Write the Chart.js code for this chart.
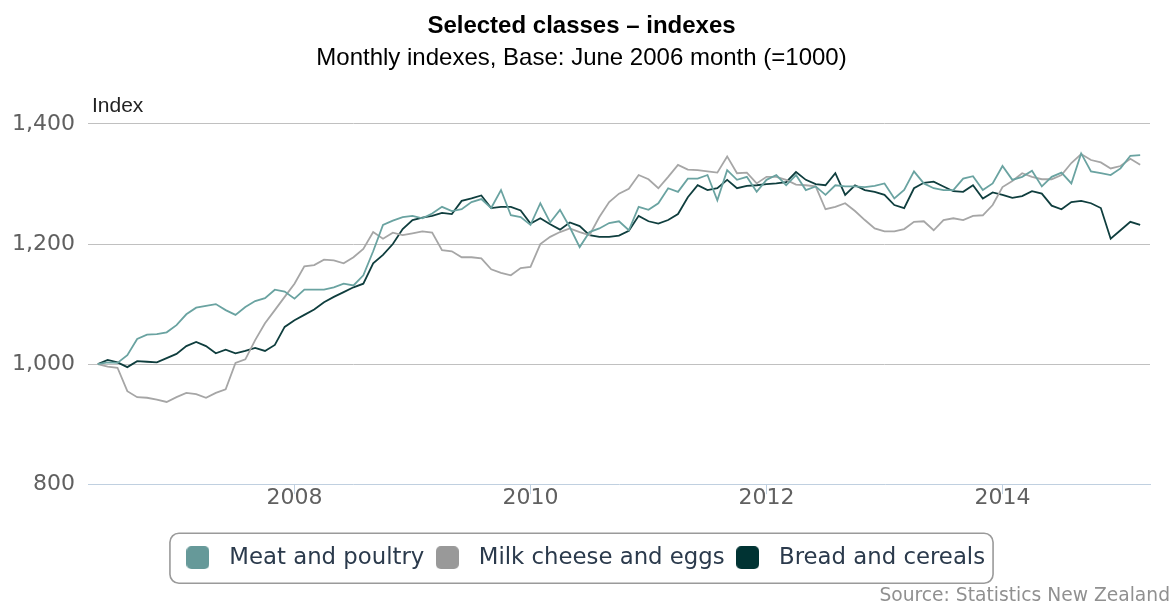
<!DOCTYPE html>
<html>
<head>
<meta charset="utf-8">
<title>Selected classes – indexes</title>
<script src="https://cdn.jsdelivr.net/npm/chart.js@4.4.1/dist/chart.umd.min.js"></script>
<style>
  html, body { margin: 0; padding: 0; background: #fff; }
  #wrap { width: 1173px; height: 603px; }
</style>
</head>
<body>
<div id="wrap"><canvas id="chart" width="1173" height="603"></canvas></div>
<script>
// monthly series, first month May 2006
const startYear = 2006;
const startMonth = 4; // 0-based, May

const seriesNames = ["Meat and poultry", "Milk cheese and eggs", "Bread and cereals"];

const meat = [
  1000, 1003, 1002, 1015, 1042, 1049, 1050, 1053, 1065, 1083,
  1094, 1097, 1100, 1090, 1082, 1095, 1105, 1110, 1124, 1121,
  1109, 1124, 1124, 1124, 1128, 1134, 1131, 1148, 1188, 1232,
  1239, 1245, 1247, 1243, 1251, 1262, 1255, 1258, 1270, 1275,
  1260, 1290, 1248, 1245, 1232, 1268, 1236, 1257, 1228, 1195,
  1220, 1226, 1235, 1238, 1223, 1262, 1257, 1268, 1293, 1287,
  1309, 1309, 1315, 1273, 1323, 1307, 1312, 1287, 1307, 1315,
  1298, 1315, 1290, 1296, 1282, 1298, 1296, 1296, 1295, 1297,
  1301, 1276, 1290, 1321, 1301, 1293, 1290, 1290, 1309, 1313,
  1290, 1301, 1330, 1307, 1312, 1322, 1296, 1312, 1319, 1301,
  1351, 1321, 1318, 1315, 1326, 1347, 1348
];

const milk = [
  1000, 996, 994, 955, 945, 944, 941, 937, 945, 952,
  950, 944, 952, 958, 1002, 1008, 1040, 1068, 1090, 1112,
  1134, 1163, 1165, 1174, 1173, 1168, 1178, 1192, 1220, 1209,
  1219, 1215, 1218, 1221, 1219, 1190, 1188, 1178, 1178, 1176,
  1158, 1152, 1148, 1160, 1162, 1200, 1212, 1220, 1226, 1220,
  1215, 1245, 1270, 1284, 1292, 1315, 1308, 1293, 1312, 1332,
  1324, 1323, 1321, 1319, 1346, 1318, 1319, 1301, 1312, 1312,
  1307, 1299, 1298, 1296, 1258, 1262, 1268, 1255, 1240, 1226,
  1221, 1221, 1225, 1237, 1238, 1223, 1240, 1243, 1240, 1247,
  1248, 1265, 1295, 1305, 1318, 1312, 1308, 1308, 1315, 1335,
  1350, 1340, 1336, 1326, 1330, 1342, 1332
];

const bread = [
  1000, 1007, 1003, 995, 1005, 1004, 1003, 1010, 1017, 1030,
  1037, 1030, 1018, 1024, 1018, 1022, 1027, 1022, 1032, 1062,
  1073, 1082, 1091, 1103, 1112, 1120, 1128, 1134, 1168, 1182,
  1200, 1225, 1240, 1244, 1247, 1252, 1250, 1272, 1276, 1281,
  1260, 1262, 1262, 1256, 1234, 1243, 1233, 1224, 1236, 1230,
  1215, 1212, 1212, 1214, 1222, 1247, 1238, 1234, 1240, 1250,
  1278, 1298, 1290, 1293, 1307, 1293, 1297, 1298, 1300, 1301,
  1303, 1320, 1307, 1300, 1298, 1318, 1282, 1298, 1290, 1287,
  1282, 1265, 1260, 1293, 1302, 1304, 1296, 1288, 1287, 1298,
  1276, 1286, 1282, 1277, 1280, 1288, 1284, 1264, 1258, 1270,
  1272, 1268, 1260, 1209, 1223, 1237, 1232
];

const xTicks = [2008, 2010, 2012, 2014];
const yTicks = [800, 1000, 1200, 1400];

const swatchColors = ["#669999", "#999999", "#003333"];
const lineColors = ["#6aa3a1", "#a6a6a6", "#0f3e3e"];

// month index -> decimal year
function toPoints(values) {
  return values.map((v, i) => ({ x: startYear + (startMonth + i) / 12, y: v }));
}

// rounded square used as the legend symbol
function makeSwatch(color) {
  const c = document.createElement("canvas");
  c.width = 23; c.height = 23;
  const g = c.getContext("2d");
  g.fillStyle = color;
  g.beginPath();
  g.roundRect(0, 0, 23, 23, 5);
  g.fill();
  return c;
}

const allSeries = [meat, milk, bread];
const datasets = allSeries.map((vals, k) => ({
  label: seriesNames[k],
  data: toPoints(vals),
  borderColor: lineColors[k],
  backgroundColor: swatchColors[k],
  borderWidth: 1.8,
  pointRadius: 0,
  pointStyle: makeSwatch(swatchColors[k]),
  tension: 0
}));

// texts that Chart.js does not place for us + the legend frame
const decor = {
  id: "decor",
  afterDraw(chart) {
    const ctx = chart.ctx;
    ctx.save();

    ctx.font = '21px "Liberation Sans", Arial, sans-serif';
    ctx.fillStyle = "#222";
    ctx.textAlign = "left";
    ctx.textBaseline = "alphabetic";
    ctx.fillText("Index", 92, 112);

    const hb = chart.legend && chart.legend.legendHitBoxes;
    if (hb && hb.length) {
      const first = hb[0], last = hb[hb.length - 1];
      const x0 = first.left + 8.5 - 16.5;
      const x1 = last.left + last.width + 8;
      const y0 = first.top - 13;
      const y1 = first.top + 23 + 14;
      ctx.strokeStyle = "#9a9a9a";
      ctx.lineWidth = 1.6;
      ctx.beginPath();
      ctx.roundRect(x0, y0, x1 - x0, y1 - y0, 9);
      ctx.stroke();
    }

    ctx.font = '18.7px "DejaVu Sans", sans-serif';
    ctx.fillStyle = "#909090";
    ctx.textAlign = "right";
    ctx.fillText("Source: Statistics New Zealand", 1170, 601);
    ctx.restore();
  }
};

new Chart(document.getElementById("chart"), {
  type: "line",
  data: { datasets: datasets },
  plugins: [decor],
  options: {
    responsive: false,
    devicePixelRatio: 1,
    animation: false,
    layout: { padding: { left: 13, right: 23, top: 0, bottom: 24 } },
    plugins: {
      tooltip: { enabled: false },
      title: {
        display: true,
        text: "Selected classes – indexes",
        color: "#000",
        font: { family: "Liberation Sans", size: 24, weight: "bold" },
        padding: { top: 12, bottom: 0 }
      },
      subtitle: {
        display: true,
        text: "Monthly indexes, Base: June 2006 month (=1000)",
        color: "#000",
        font: { family: "Liberation Sans", size: 24 },
        padding: { top: 3, bottom: 51.4 }
      },
      legend: {
        position: "bottom",
        labels: {
          usePointStyle: true,
          pointStyleWidth: 40,
          boxHeight: 23,
          padding: 3,
          color: "#2b3a4c",
          font: { family: "DejaVu Sans", size: 22.8 }
        }
      }
    },
    scales: {
      x: {
        type: "linear",
        min: 2006.25,
        max: 2015.25,
        afterBuildTicks: (s) => { s.ticks = xTicks.map(v => ({ value: v })); },
        afterFit: (s) => { s.height = 59; },
        ticks: {
          callback: (v) => String(v),
          color: "#606060",
          font: { family: "DejaVu Sans", size: 22 },
          padding: -9,
          maxRotation: 0
        },
        grid: { drawOnChartArea: false, drawTicks: true, tickLength: 10, color: "#C0D0E0" },
        border: { color: "#C0D0E0", width: 1 }
      },
      y: {
        min: 800,
        max: 1400,
        afterBuildTicks: (s) => { s.ticks = yTicks.map(v => ({ value: v })); },
        afterFit: (s) => { s.width = 75; },
        ticks: {
          callback: (v) => v.toLocaleString("en-US"),
          color: "#606060",
          font: { family: "DejaVu Sans", size: 22 },
          padding: 13
        },
        grid: {
          drawTicks: false,
          color: (c) => (c.tick && c.tick.value === 800 ? "rgba(0,0,0,0)" : "#C0C0C0")
        },
        border: { display: false }
      }
    }
  }
});
</script>
</body>
</html>
